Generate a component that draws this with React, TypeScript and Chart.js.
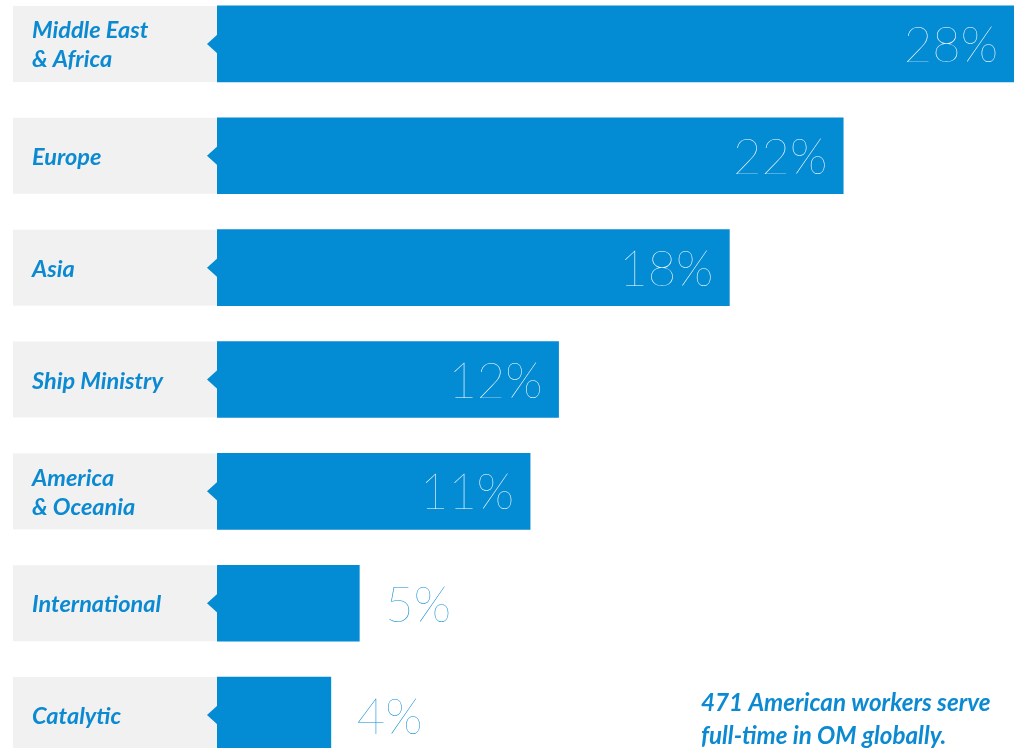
import React, { useEffect, useRef } from "react";
import { Chart, registerables } from "chart.js";

Chart.register(...registerables);

const categories: string[][] = [
  ["Middle East", "& Africa"],
  ["Europe"],
  ["Asia"],
  ["Ship Ministry"],
  ["America", "& Oceania"],
  ["International"],
  ["Catalytic"],
];
const values: number[] = [28, 22, 18, 12, 11, 5, 4];
const valueLabels: string[] = ["28%", "22%", "18%", "12%", "11%", "5%", "4%"];
const footnote: string[] = ["471 American workers serve", "full-time in OM globally."];

const BLUE = "#038bd3";
const TEXT_BLUE = "#0b8ad2";
const GRAY = "#f1f1f1";

const decorPlugin = {
  id: "decor",
  beforeDatasetsDraw(chart: any) {
    const { ctx, chartArea, scales } = chart;
    const y = scales.y;
    ctx.save();
    categories.forEach((lines, i) => {
      const cy = y.getPixelForValue(i);
      ctx.fillStyle = GRAY;
      ctx.fillRect(13, cy - 38, chartArea.left - 13, 76);
      ctx.fillStyle = TEXT_BLUE;
      ctx.font = "italic 700 23.5px Lato";
      ctx.textBaseline = "alphabetic";
      ctx.textAlign = "left";
      const lh = 29;
      const n = lines.length;
      lines.forEach((t, k) => {
        const base = cy + 9 + (k - (n - 1) / 2) * lh;
        ctx.fillText(t, 32, base);
      });
    });
    ctx.restore();
  },
  afterDatasetsDraw(chart: any) {
    const { ctx, chartArea, scales } = chart;
    const y = scales.y;
    const x = scales.x;
    ctx.save();
    values.forEach((v, i) => {
      const cy = y.getPixelForValue(i);
      ctx.fillStyle = BLUE;
      ctx.beginPath();
      ctx.moveTo(chartArea.left + 1, cy - 10);
      ctx.lineTo(chartArea.left - 10, cy);
      ctx.lineTo(chartArea.left + 1, cy + 10);
      ctx.closePath();
      ctx.fill();
      const xe = x.getPixelForValue(v);
      ctx.font = "200 49px Lato";
      ctx.textBaseline = "alphabetic";
      if (v >= 10) {
        ctx.fillStyle = "#ffffff";
        ctx.textAlign = "right";
        ctx.fillText(valueLabels[i], xe - 16, cy + 18);
      } else {
        ctx.fillStyle = TEXT_BLUE;
        ctx.textAlign = "left";
        ctx.fillText(valueLabels[i], xe + 26, cy + 19);
      }
    });
    ctx.fillStyle = TEXT_BLUE;
    ctx.font = "italic 700 24.2px Lato";
    ctx.textAlign = "left";
    ctx.textBaseline = "alphabetic";
    footnote.forEach((t, k) => {
      ctx.fillText(t, 701, 723 + k * 33);
    });
    ctx.restore();
  },
};

export default function App() {
  const ref = useRef<HTMLCanvasElement | null>(null);
  useEffect(() => {
    if (!ref.current) return;
    const chart = new Chart(ref.current, {
      type: "bar",
      data: {
        labels: categories.map((c) => c.join(" ")),
        datasets: [
          {
            data: values,
            backgroundColor: BLUE,
            borderWidth: 0,
            barThickness: 76,
          },
        ],
      },
      options: {
        indexAxis: "y",
        animation: false,
        responsive: false,
        devicePixelRatio: 1,
        layout: { padding: { left: 217, right: 0, top: 0, bottom: 0 } },
        plugins: { legend: { display: false }, tooltip: { enabled: false } },
        scales: {
          x: { min: 0, max: 28, display: false, grid: { display: false } },
          y: { display: false, grid: { display: false } },
        },
      },
      plugins: [decorPlugin],
    } as any);
    return () => chart.destroy();
  }, []);
  return (
    <div
      style={{
        position: "absolute",
        left: 0,
        top: 0,
        width: 1014,
        height: 748,
        overflow: "hidden",
        background: "#ffffff",
      }}
    >
      <canvas
        ref={ref}
        width={1014}
        height={783}
        style={{ position: "absolute", left: 0, top: -12, width: 1014, height: 783 }}
      />
    </div>
  );
}
